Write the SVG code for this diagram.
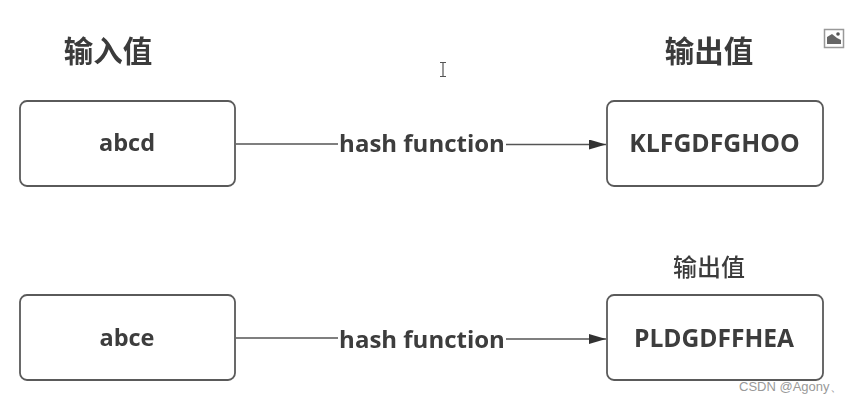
<svg xmlns="http://www.w3.org/2000/svg" width="851" height="403" viewBox="0 0 851 403">
<style>
.box{fill:#fff;stroke:#5a5a5a;stroke-width:1.8;filter:url(#b)}
.t{font-family:"Open Sans","Noto Sans CJK SC",sans-serif;font-weight:700;fill:#3c3c3c;text-anchor:middle;filter:url(#b)}
.h{font-family:"Noto Sans CJK SC",sans-serif;font-weight:700;font-size:29.500px;fill:#3a3a3a;text-anchor:middle;filter:url(#b)}
.c{fill:none;stroke:#555;stroke-width:1.5;filter:url(#b)}
</style>
<defs><filter id="b" filterUnits="userSpaceOnUse" x="0" y="0" width="851" height="403"><feGaussianBlur stdDeviation="0.6"/></filter><marker id="a" markerWidth="18" markerHeight="12" refX="17" refY="5" orient="auto" markerUnits="userSpaceOnUse"><path d="M0,0L17,5L0,10Z" fill="#333"/></marker></defs>
<rect width="851" height="403" fill="#fff"/>
<g id="connectors">
<path class="c" d="M236,144H338"/><path class="c" d="M506,144.500H606" marker-end="url(#a)"/>
<path class="c" d="M236,338H338"/><path class="c" d="M506,339H606" marker-end="url(#a)"/>
</g>
<g id="label-in"><text class="h" x="108" y="62">输入值</text></g>
<g id="label-out"><text class="h" x="709" y="62">输出值</text></g>
<g id="label-out2"><text class="h" x="709" y="276" style="font-size:24px;font-weight:500">输出值</text></g>
<g id="n1"><rect class="box" x="20" y="101" width="215" height="85" rx="7"/><text class="t" x="127" y="151" font-size="23.500">abcd</text></g>
<g id="n2"><rect class="box" x="607" y="101" width="216" height="85" rx="7"/><text class="t" x="714.500" y="151.500" font-size="24.800">KLFGDFGHOO</text></g>
<g id="n3"><rect class="box" x="20" y="295" width="215" height="85" rx="7"/><text class="t" x="127" y="346" font-size="23.500">abce</text></g>
<g id="n4"><rect class="box" x="607" y="295" width="216" height="85" rx="7"/><text class="t" x="714" y="346.500" font-size="24.600">PLDGDFFHEA</text></g>
<g id="f1"><text class="t" x="422" y="152" font-size="24">hash function</text></g>
<g id="f2"><text class="t" x="422" y="348" font-size="24">hash function</text></g>
<g id="icon"><rect x="824.500" y="29.500" width="19" height="18" fill="#fff" stroke="#999" stroke-width="1.5"/><path d="M827,44V37L832,34L837,38L841,40V44Z" fill="#666"/><circle cx="838" cy="34" r="1.800" fill="#555"/></g>
<g id="cursor"><path d="M443,63V76M440,62.500H446M440,76.500H446" stroke="#555" stroke-width="1.200" fill="none"/></g>
<text x="739" y="391" font-family="Liberation Sans,sans-serif" font-size="13" fill="#999">CSDN @Agony、</text>
</svg>
